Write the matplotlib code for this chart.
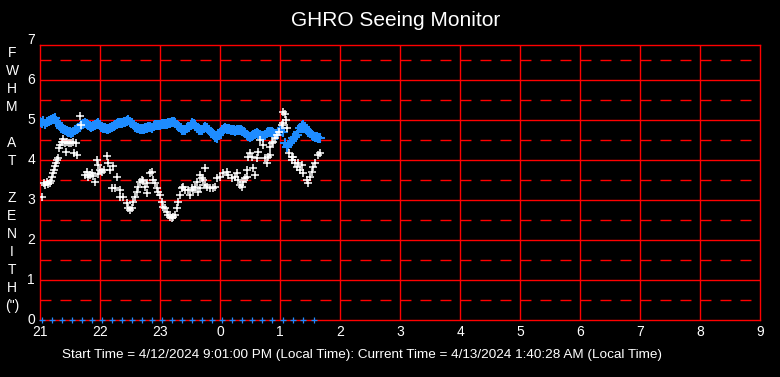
import matplotlib
matplotlib.use('Agg')
import matplotlib.pyplot as plt

plt.rcParams['font.family'] = ['Liberation Sans', 'DejaVu Sans']

# time in minutes after 21:00 local time
fwhm_min = [2.3, 3.5, 5, 6.5, 8, 9.5, 10.5, 11.7, 13, 14, 15, 16, 17.3, 18.3, 19.3, 20,
            21.7, 23.3, 25, 26, 26.7, 29.3, 31, 33.3, 34, 35.7, 36.7, 40, 41, 45, 46.5,
            48, 50, 51.5, 53, 54.5, 56.7, 58.3, 58.3, 60, 62, 64, 66.7, 68, 70, 71.7, 73,
            75, 76.7, 80, 80, 83, 86.7, 88.3, 90, 91.7, 93.3, 95, 96.7, 98.3, 100, 101.7,
            103.3, 105, 106.7, 106.7, 110, 111.7, 113.3, 115, 116.7, 118.3, 120, 121.7,
            123.3, 125, 126.7, 128.3, 130, 131.7, 133.3, 135, 136.7, 138.3, 140, 141.7,
            143.3, 145, 148.3, 150, 151.7, 153.3, 155, 156.7, 158.3, 160, 160, 161.7,
            163.3, 165, 165, 166.7, 170, 173.3, 175, 176.7, 180, 183.3, 186.7, 188.3,
            191.7, 195, 196.7, 198.3, 200, 201.5, 203.3, 205, 206.7, 206.7, 208.3, 210,
            211.7, 213.3, 215, 216.7, 218.3, 220, 223.3, 225, 226.7, 228.3, 230, 230,
            231.7, 233.3, 235, 237.3, 239.3, 241.7, 243.3, 243.3, 245, 246, 247, 249.3,
            251.7, 251.7, 253.3, 255, 256.7, 258.3, 260, 261.7, 263.3, 266.7, 268.3, 270,
            271.7, 273.3, 275, 278.3, 280]
fwhm_val = [3.07, 3.42, 3.38, 3.45, 3.40, 3.43, 3.48, 3.58, 3.68, 3.75, 3.85, 3.92, 4.0,
            4.04, 4.29, 4.375, 4.46, 4.52, 4.42, 4.21, 4.46, 4.43, 4.43, 4.46, 4.18, 4.42,
            4.125, 5.1, 4.88, 3.62, 3.7, 3.58, 3.62, 3.67, 3.6, 3.45, 4.0, 3.875, 3.65,
            3.75, 3.7, 3.75, 4.1, 3.92, 3.75, 3.29, 3.85, 3.31, 3.58, 3.25, 3.08, 3.08,
            2.92, 2.79, 2.75, 2.79, 2.96, 3.08, 3.21, 3.33, 3.46, 3.5, 3.47, 3.33, 3.42,
            3.17, 3.67, 3.71, 3.5, 3.42, 3.29, 3.21, 3.125, 2.96, 2.83, 2.79, 2.71, 2.625,
            2.58, 2.54, 2.58, 2.625, 2.79, 2.96, 3.125, 3.29, 3.33, 3.25, 3.25, 3.125,
            3.29, 3.25, 3.33, 3.46, 3.21, 3.625, 3.29, 3.54, 3.5, 3.375, 3.79, 3.32, 3.29,
            3.29, 3.32, 3.54, 3.58, 3.67, 3.71, 3.625, 3.54, 3.58, 3.67, 3.5, 3.375, 3.33,
            3.46, 3.54, 3.58, 3.75, 4.08, 4.17, 4.08, 3.79, 3.625, 4.04, 4.2, 4.5, 4.375,
            4.04, 3.92, 4.08, 4.125, 4.33, 4.42, 4.46, 4.54, 4.625, 4.71, 4.875, 5.2, 4.92,
            5.14, 5.0, 4.79, 4.17, 4.08, 4.0, 4.08, 3.92, 3.83, 3.92, 3.75, 3.875, 3.67,
            3.5, 3.42, 3.58, 3.71, 3.83, 3.92, 4.125, 4.17]

smooth_min = [0, 1.5, 3, 5, 7, 9, 11, 13, 14.7, 16, 18, 20, 21.3, 23, 24.7, 26.5, 28, 30,
              31.3, 33, 34.7, 36.5, 38, 40, 41.3, 43, 44.7, 46.5, 48, 50, 51.3, 53, 54.7,
              56.5, 58, 60, 61.3, 63, 64.7, 66.5, 68, 70, 71.7, 73.5, 75, 76.5, 78.3, 80,
              81.7, 83.5, 85, 86.5, 88.3, 90, 91.7, 93.5, 95, 96.5, 98.3, 100, 101.7,
              103.5, 105, 106.5, 108.3, 110, 111.7, 113.5, 115, 116.5, 118.3, 120, 121.7,
              123.5, 125, 126.5, 128.3, 130, 131.7, 133.5, 135, 137, 138.7, 140.5, 142,
              143.5, 145.3, 147, 148.7, 150.5, 152, 153.5, 155.3, 157, 158.7, 160.5, 162,
              163.5, 165.3, 167, 168.7, 170.5, 172, 173.5, 175.3, 177, 178.7, 180.5, 182,
              183.5, 185.3, 187, 188.7, 190.5, 192, 193.5, 195.3, 197, 198.7, 200.5, 202,
              203.5, 205, 206.7, 208.3, 210, 211.7, 213.3, 215, 216.7, 218.3, 220, 221.7,
              223.3, 225, 226.7, 228.3, 230, 231.7, 233.3, 235, 236.7, 238.3, 240, 241.7,
              243.3, 245, 246.7, 248.3, 250, 251.7, 253.3, 255, 256.7, 258.3, 260, 261.7,
              263.3, 265, 266.7, 268.3, 270, 271.7, 273.3, 275, 276.7, 278.3, 280]
smooth_val = [4.95, 4.92, 4.97, 4.9, 4.95, 4.97, 5.0, 5.02, 5.04, 4.98, 4.92, 4.85, 4.79,
              4.77, 4.75, 4.73, 4.71, 4.69, 4.67, 4.71, 4.75, 4.77, 4.79, 4.83, 4.875, 4.9,
              4.92, 4.9, 4.875, 4.85, 4.83, 4.85, 4.875, 4.9, 4.92, 4.88, 4.83, 4.81, 4.79,
              4.77, 4.77, 4.81, 4.83, 4.85, 4.875, 4.9, 4.92, 4.92, 4.92, 4.94, 4.96, 4.98,
              5.0, 4.96, 4.92, 4.87, 4.83, 4.81, 4.79, 4.78, 4.775, 4.78, 4.79, 4.81, 4.83,
              4.82, 4.81, 4.84, 4.875, 4.875, 4.875, 4.88, 4.89, 4.89, 4.89, 4.9, 4.92,
              4.93, 4.95, 4.95, 4.93, 4.88, 4.83, 4.79, 4.75, 4.75, 4.75, 4.79, 4.83, 4.88,
              4.92, 4.9, 4.875, 4.81, 4.75, 4.75, 4.75, 4.79, 4.83, 4.79, 4.75, 4.71, 4.67,
              4.63, 4.58, 4.54, 4.625, 4.69, 4.75, 4.77, 4.79, 4.78, 4.775, 4.76, 4.75,
              4.74, 4.725, 4.74, 4.75, 4.75, 4.73, 4.71, 4.67, 4.625, 4.6, 4.58, 4.6,
              4.625, 4.65, 4.67, 4.65, 4.625, 4.6, 4.58, 4.625, 4.67, 4.69, 4.71, 4.69,
              4.67, 4.65, 4.625, 4.69, 4.75, 4.79, 4.71, 4.42, 4.33, 4.375, 4.42, 4.48,
              4.54, 4.58, 4.625, 4.71, 4.79, 4.84, 4.875, 4.83, 4.75, 4.71, 4.67, 4.625,
              4.6, 4.58, 4.58, 4.56, 4.54]

zero_min = [2, 12, 22, 32, 42, 52, 62, 72, 82, 92, 102, 112, 122, 132, 142, 152, 162,
            172, 182, 192, 202, 212, 222, 232, 243, 253, 263, 274]
zero_val = [0.0] * len(zero_min)

x_ticks = [0, 60, 120, 180, 240, 300, 360, 420, 480, 540, 600, 660, 720]
x_labels = ['21', '22', '23', '0', '1', '2', '3', '4', '5', '6', '7', '8', '9']
y_ticks = [0, 1, 2, 3, 4, 5, 6, 7]
y_half = [0.5, 1.5, 2.5, 3.5, 4.5, 5.5, 6.5]
ylabel_chars = ['F', 'W', 'H', 'M', '', 'A', 'T', '', 'Z', 'E', 'N', 'I', 'T', 'H', '(")']

RED = '#FF0000'
BLUE = '#1E8CFF'
W, H = 780, 377

fig = plt.figure(figsize=(W / 100, H / 100), dpi=100, facecolor='black')
ax = fig.add_axes([40 / W, 1 - 320 / H, 720 / W, 275 / H], facecolor='black')
ax.set_xlim(0, 720)
ax.set_ylim(0, 6.875)

for s in ax.spines.values():
    s.set_color(RED)
    s.set_linewidth(1.0)
ax.set_xticks([])
ax.set_yticks([])

# grid: solid on the whole units, dashed on the halves
for y in y_ticks[1:]:
    ax.axhline(y, color=RED, lw=1.0, zorder=1)
for y in y_half:
    ax.axhline(y, color=RED, lw=1.0, linestyle=(0, (7.9, 6.5)), zorder=1)
for x in x_ticks[1:-1]:
    ax.axvline(x, color=RED, lw=1.0, zorder=1)

# data
ax.plot(smooth_min, smooth_val, linestyle='none', marker='+', ms=6.5, mew=1.5,
        color=BLUE, zorder=3)
ax.plot(fwhm_min, fwhm_val, linestyle='none', marker='+', ms=5.8, mew=1.1,
        color='white', zorder=4)
ax.plot(zero_min, zero_val, linestyle='none', marker='+', ms=4, mew=0.9,
        color=BLUE, zorder=4, clip_on=False)

# tick labels
ytr = ax.get_yaxis_transform()
for y in y_ticks:
    ax.text(-0.0125, y, str(y), transform=ytr, ha='center', va='center',
            color='white', fontsize=10, clip_on=False)
xtr = ax.get_xaxis_transform()
for x, lab in zip(x_ticks, x_labels):
    ax.text(x, -0.043, lab, transform=xtr, ha='center', va='center',
            color='white', fontsize=10, clip_on=False)

# vertical axis label, one letter per line
for i, ch in enumerate(ylabel_chars):
    fig.text(12 / W, 1 - (53 + i * 18.07) / H, ch, ha='center', va='center',
             color='white', fontsize=10)

fig.text(396 / W, 1 - 20 / H, 'GHRO Seeing Monitor', ha='center', va='center',
         color='white', fontsize=15)
fig.text(62 / W, 1 - 355 / H,
         'Start Time = 4/12/2024 9:01:00 PM (Local Time): Current Time = 4/13/2024 1:40:28 AM (Local Time)',
         ha='left', va='center', color='white', fontsize=9.7)

fig.savefig('out.png', dpi=100, facecolor='black')
